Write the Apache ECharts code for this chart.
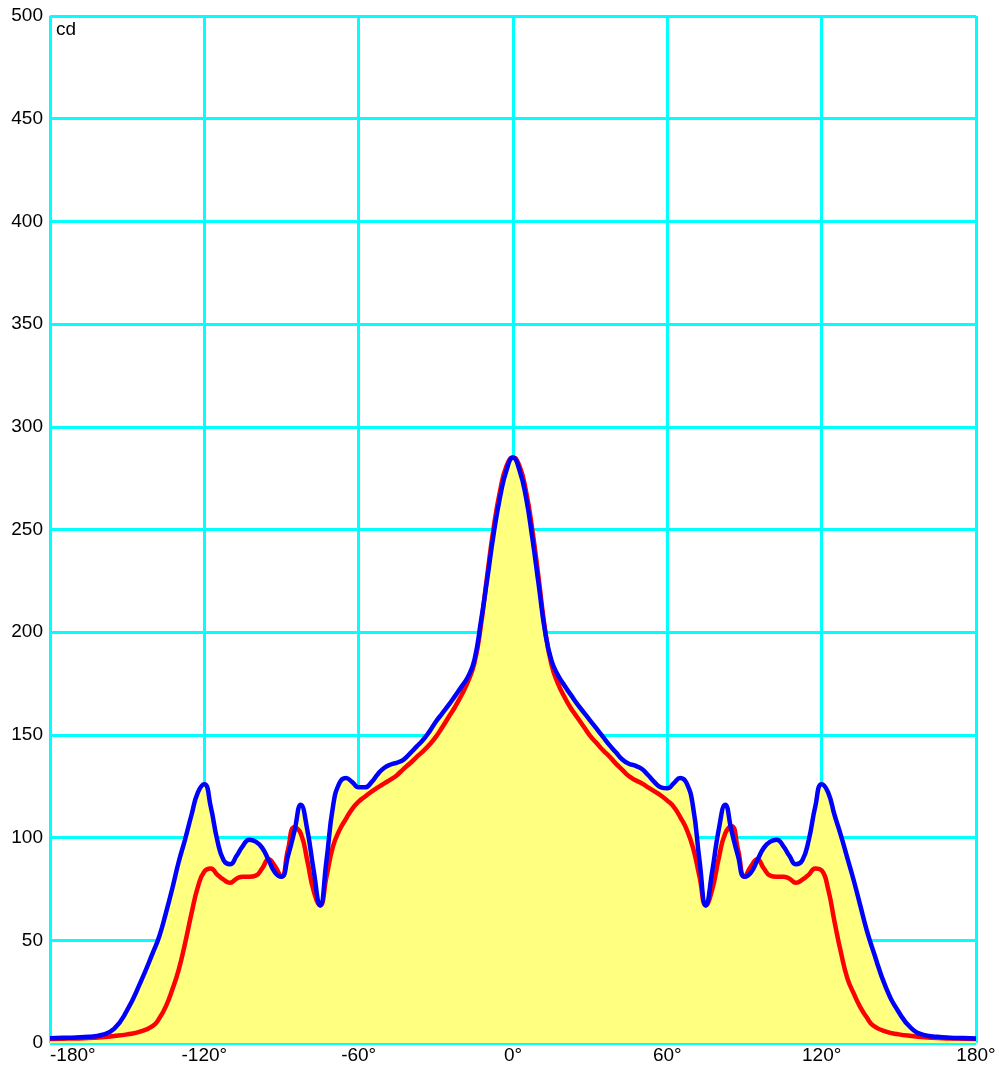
<!DOCTYPE html>
<html>
<head>
    <meta charset="utf-8">
    <title>cd</title>
    <script type="text/javascript" src="https://cdn.jsdelivr.net/npm/echarts@6/dist/echarts.min.js"></script>
    <style>
        html, body {margin: 0; padding: 0; background: #fff;}
    </style>
</head>
<body>
<div id="main" style="width: 999px;height:1066px;"></div>
<script type="text/javascript">
    // angles in degrees
    var angles = [-180, -175, -170, -165, -160, -155, -150, -145,
        -140, -137.5, -135, -132.5, -130, -127.5, -125, -122.5, -120, -117.5, -115, -112.5,
        -110, -107.5, -105, -102.5, -100, -97.5, -95, -92.5, -90, -87.5,
        -85, -82.5, -80, -77.5, -75, -72.5, -70, -67.5, -65, -62.5,
        -60, -57.5, -55, -52.5, -50, -47.5, -45, -42.5, -40, -37.5,
        -35, -32.5, -30, -27.5, -25, -22.5, -20, -17.5, -15, -12.5,
        -10, -7.5, -5, -2.5, 0,
        2.5, 5, 7.5, 10, 12.5, 15, 17.5, 20, 22.5, 25,
        27.5, 30, 32.5, 35, 37.5, 40, 42.5, 45, 47.5, 50,
        52.5, 55, 57.5, 60, 62.5, 65, 67.5, 70, 72.5, 75,
        77.5, 80, 82.5, 85, 87.5, 90, 92.5, 95, 97.5, 100,
        102.5, 105, 107.5, 110, 112.5, 115, 117.5, 120, 122.5, 125,
        127.5, 130, 132.5, 135, 137.5, 140,
        145, 150, 155, 160, 165, 170, 175, 180];

    // red curve (cd)
    var redValues = [2, 2.1, 2.2, 2.4, 2.8, 3.4, 4.2, 5.5,
        8.3, 12, 17.7, 25.8, 35.5, 48.5, 63, 76, 83.5, 85, 82, 79.5,
        78, 80, 81, 81, 81.5, 85, 89.5, 86, 81, 94,
        105, 102, 89, 74, 67, 81, 95.6, 103.5, 109, 114,
        117.5, 120, 122.4, 124.5, 126.4, 128.3, 130.5, 133.5, 136.2, 139.2,
        142, 145.2, 149, 153.7, 158.7, 163.7, 169.4, 176, 185, 203,
        228, 251, 269, 281, 285,
        281, 269, 250, 226, 201, 184, 175, 168.5, 163, 158.5,
        154, 149.5, 146, 142.5, 139.5, 136, 133, 130, 128, 126.5,
        124.5, 122.5, 120.5, 118, 115, 110, 104, 95, 81, 67,
        75, 90, 102, 105.5, 94, 81, 86, 89.5, 85, 81.5,
        81, 81, 80, 78, 79.5, 82, 85, 84, 75, 59,
        44, 31.5, 24, 17.5, 12.5, 8.5,
        5.5, 4.2, 3.4, 2.8, 2.4, 2.2, 2.1, 2];

    // blue curve (cd)
    var blueValues = [2.3, 2.5, 2.7, 3, 3.9, 7, 16, 29,
        44, 52, 63, 75, 88, 99, 111, 122, 126, 115, 99, 89,
        87, 91, 96, 99, 98, 95, 89, 83, 81, 91,
        103, 116, 104, 84, 67, 89, 115, 126.5, 129, 127,
        124.5, 124.5, 127, 131, 134, 135.6, 136.5, 138, 141, 144.3,
        147.5, 151.6, 156.4, 160.5, 164.6, 169, 173.5, 178.3, 186.5, 205,
        226, 248, 266, 279, 285,
        279, 266, 246, 223, 200, 186, 179, 174, 169.5, 165,
        161, 157, 153, 149, 145, 141.5, 138, 136, 135, 133.5,
        130.5, 127, 124.5, 124, 126.5, 129, 126.5, 115, 89, 67,
        84, 104, 116, 103, 91, 81, 83, 89, 95, 98,
        99, 96, 91, 87, 89, 99, 115, 126, 122, 111,
        101, 90, 79, 67, 55, 45,
        27, 15, 7, 3.8, 3, 2.6, 2.4, 2.2];

    var xTicks = [-180, -120, -60, 0, 60, 120, 180];

    function pairs(vals) {
        return angles.map(function (a, i) {
            return [a, vals[i]];
        });
    }

    var fontFamily = '"Liberation Sans", Arial, sans-serif';
    var myChart = echarts.init(document.getElementById('main'));
    var option = {
        animation: false,
        backgroundColor: '#fff',
        grid: {
            left: 50, right: 23, top: 16, bottom: 23,
            show: true,
            borderColor: '#008b8b',
            borderWidth: 1
        },
        graphic: [{
            type: 'text',
            left: 56, top: 20,
            style: {text: 'cd', fontSize: 19, fontFamily: fontFamily, fill: '#000'}
        }],
        xAxis: {
            type: 'value',
            min: xTicks[0],
            max: xTicks[xTicks.length - 1],
            interval: 60,
            axisLine: {show: false},
            axisTick: {show: false},
            splitLine: {show: true, lineStyle: {color: '#00ffff', width: 3}},
            axisLabel: {
                color: '#000', fontSize: 19, fontFamily: fontFamily, margin: 3,
                alignMinLabel: 'left',
                formatter: function (v) { return v + '°'; }
            }
        },
        yAxis: {
            type: 'value',
            min: 0, max: 500, interval: 50,
            axisLine: {show: false},
            axisTick: {show: false},
            splitLine: {show: true, lineStyle: {color: '#00ffff', width: 3}},
            axisLabel: {color: '#000', fontSize: 19, fontFamily: fontFamily, margin: 7}
        },
        series: [
            // yellow fill under both curves
            {
                type: 'line', data: pairs(redValues), smooth: 0.5, symbol: 'none', z: 1,
                lineStyle: {width: 0}, areaStyle: {color: '#ffff80', opacity: 1}
            },
            {
                type: 'line', data: pairs(blueValues), smooth: 0.5, symbol: 'none', z: 1,
                lineStyle: {width: 0}, areaStyle: {color: '#ffff80', opacity: 1}
            },
            {
                type: 'line', data: pairs(redValues), smooth: 0.5, symbol: 'none', z: 3,
                lineStyle: {width: 4.5, color: '#ff0000'}
            },
            {
                type: 'line', data: pairs(blueValues), smooth: 0.5, symbol: 'none', z: 4,
                lineStyle: {width: 4.5, color: '#0000ff'}
            }
        ]
    };
    myChart.setOption(option);
</script>
</body>
</html>
